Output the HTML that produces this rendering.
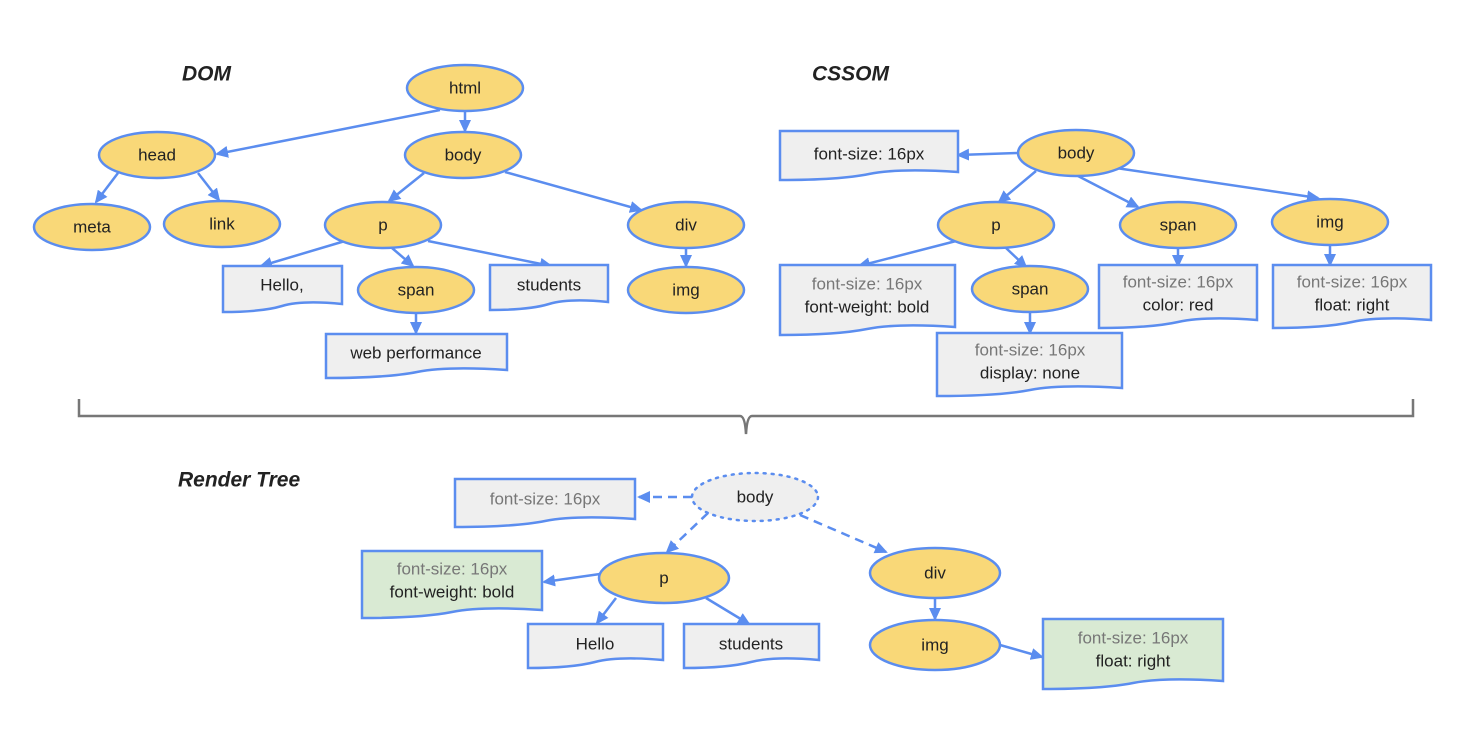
<!DOCTYPE html>
<html><head><meta charset="utf-8"><style>
html,body{margin:0;padding:0;background:#fff}
svg{display:block}
text{font-family:"Liberation Sans",Arial,sans-serif;font-size:17px;fill:#222;text-anchor:middle;dominant-baseline:central}
.g{fill:#777}
.t{font-weight:bold;font-style:italic;font-size:21px;text-anchor:start}
.e{fill:#f9d878;stroke:#5b8def;stroke-width:2.5}
.d{fill:#efefef;stroke:#5b8def;stroke-width:2.5}
.dg{fill:#d9ead3;stroke:#5b8def;stroke-width:2.5}
.a{stroke:#5b8def;stroke-width:2.5;fill:none;marker-end:url(#ar)}
.ad{stroke:#5b8def;stroke-width:2.5;fill:none;marker-end:url(#ar);stroke-dasharray:9 6}
</style></head><body>
<svg width="1472" height="752" viewBox="0 0 1472 752" xmlns="http://www.w3.org/2000/svg">
<defs><marker id="ar" markerWidth="13" markerHeight="12" refX="11" refY="6" orient="auto" markerUnits="userSpaceOnUse"><path d="M0,0 L13,6 L0,12 Z" fill="#5b8def"/></marker></defs>

<text class="t" x="182" y="74">DOM</text>
<text class="t" x="812" y="74">CSSOM</text>
<text class="t" x="178" y="480">Render Tree</text>

<!-- DOM edges -->
<path class="a" d="M440,110 L217,154"/>
<path class="a" d="M465,111 L465,131"/>
<path class="a" d="M118,173 L96,202"/>
<path class="a" d="M198,173 L219,200"/>
<path class="a" d="M424,173 L389,201"/>
<path class="a" d="M505,172 L641,210"/>
<path class="a" d="M345,241 L261,266"/>
<path class="a" d="M392,248 L413,266"/>
<path class="a" d="M428,241 L551,266"/>
<path class="a" d="M686,249 L686,266"/>
<path class="a" d="M416,314 L416,333"/>

<!-- DOM nodes -->
<ellipse class="e" cx="465" cy="88" rx="58" ry="23"/><text x="465" y="88">html</text>
<ellipse class="e" cx="157" cy="155" rx="58" ry="23"/><text x="157" y="155">head</text>
<ellipse class="e" cx="463" cy="155" rx="58" ry="23"/><text x="463" y="155">body</text>
<ellipse class="e" cx="92" cy="227" rx="58" ry="23"/><text x="92" y="227">meta</text>
<ellipse class="e" cx="222" cy="224" rx="58" ry="23"/><text x="222" y="224">link</text>
<ellipse class="e" cx="383" cy="225" rx="58" ry="23"/><text x="383" y="225">p</text>
<ellipse class="e" cx="686" cy="225" rx="58" ry="23"/><text x="686" y="225">div</text>
<ellipse class="e" cx="416" cy="290" rx="58" ry="23"/><text x="416" y="290">span</text>
<ellipse class="e" cx="686" cy="290" rx="58" ry="23"/><text x="686" y="290">img</text>

<path class="d" d="M223,266 H342 V304 Q302,300 282,306 T223,312 Z"/><text x="282" y="285">Hello,</text>
<path class="d" d="M490,265 H608 V302 Q569,298 549,304 T490,310 Z"/><text x="549" y="285">students</text>
<path class="d" d="M326,334 H507 V370 Q447,366 417,372 T326,378 Z"/><text x="416" y="353">web performance</text>

<!-- CSSOM edges -->
<path class="a" d="M1018,153 L958,155"/>
<path class="a" d="M1036,171 L999,202"/>
<path class="a" d="M1078,176 L1138,207"/>
<path class="a" d="M1116,168 L1318,198"/>
<path class="a" d="M960,240 L859,266"/>
<path class="a" d="M1006,248 L1026,267"/>
<path class="a" d="M1178,249 L1178,266"/>
<path class="a" d="M1330,246 L1330,265"/>
<path class="a" d="M1030,313 L1030,333"/>

<ellipse class="e" cx="1076" cy="153" rx="58" ry="23"/><text x="1076" y="153">body</text>
<ellipse class="e" cx="996" cy="225" rx="58" ry="23"/><text x="996" y="225">p</text>
<ellipse class="e" cx="1178" cy="225" rx="58" ry="23"/><text x="1178" y="225">span</text>
<ellipse class="e" cx="1330" cy="222" rx="58" ry="23"/><text x="1330" y="222">img</text>
<ellipse class="e" cx="1030" cy="289" rx="58" ry="23"/><text x="1030" y="289">span</text>

<path class="d" d="M780,131 H958 V172 Q898,168 869,174 T780,180 Z"/><text x="869" y="154">font-size: 16px</text>
<path class="d" d="M780,265 H955 V327 Q897,323 867,329 T780,335 Z"/><text class="g" x="867" y="284">font-size: 16px</text><text x="867" y="307">font-weight: bold</text>
<path class="d" d="M937,333 H1122 V388 Q1061,384 1030,390 T937,396 Z"/><text class="g" x="1030" y="350">font-size: 16px</text><text x="1030" y="373">display: none</text>
<path class="d" d="M1099,265 H1257 V320 Q1205,316 1178,322 T1099,328 Z"/><text class="g" x="1178" y="282">font-size: 16px</text><text x="1178" y="305">color: red</text>
<path class="d" d="M1273,265 H1431 V320 Q1379,316 1352,322 T1273,328 Z"/><text class="g" x="1352" y="282">font-size: 16px</text><text x="1352" y="305">float: right</text>

<!-- bracket -->
<path d="M79,399 V416 H740 Q745,416 746,434 Q747,416 752,416 H1413 V399" fill="none" stroke="#777" stroke-width="2.5"/>

<!-- Render tree edges -->
<path class="ad" d="M692,497 L639,497"/>
<path class="ad" d="M708,513 L667,552"/>
<path class="ad" d="M800,515 L886,552"/>
<path class="a" d="M600,574 L544,582"/>
<path class="a" d="M616,598 L597,623"/>
<path class="a" d="M706,598 L749,624"/>
<path class="a" d="M935,598 L935,619"/>
<path class="a" d="M1000,645 L1042,657"/>

<ellipse cx="755" cy="497" rx="63" ry="24" fill="#efefef" stroke="#5b8def" stroke-width="2.5" stroke-dasharray="2 6" stroke-linecap="round"/><text x="755" y="497">body</text>
<ellipse class="e" cx="664" cy="578" rx="65" ry="25"/><text x="664" y="578">p</text>
<ellipse class="e" cx="935" cy="573" rx="65" ry="25"/><text x="935" y="573">div</text>
<ellipse class="e" cx="935" cy="645" rx="65" ry="25"/><text x="935" y="645">img</text>

<path class="d" d="M455,479 H635 V519 Q575,515 545,521 T455,527 Z"/><text class="g" x="545" y="499">font-size: 16px</text>
<path class="dg" d="M362,551 H542 V610 Q482,606 452,612 T362,618 Z"/><text class="g" x="452" y="569">font-size: 16px</text><text x="452" y="592">font-weight: bold</text>
<path class="d" d="M528,624 H663 V660 Q618,656 595,662 T528,668 Z"/><text x="595" y="644">Hello</text>
<path class="d" d="M684,624 H819 V660 Q774,656 751,662 T684,668 Z"/><text x="751" y="644">students</text>
<path class="dg" d="M1043,619 H1223 V681 Q1163,677 1133,683 T1043,689 Z"/><text class="g" x="1133" y="638">font-size: 16px</text><text x="1133" y="661">float: right</text>
</svg>
</body></html>
